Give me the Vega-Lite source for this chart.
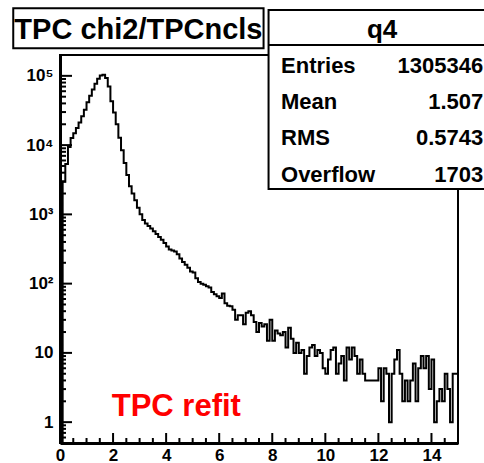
{
  "$schema": "https://vega.github.io/schema/vega-lite/v6.json",
  "width": 398,
  "height": 388,
  "autosize": {"type": "none"},
  "padding": {"left": 60, "top": 55, "right": 26, "bottom": 20},
  "background": "white",
  "config": {"view": {"stroke": null}, "font": "Liberation Sans"},
  "datasets": {
    "bins": [
      {"x": 0.0, "count": 0}, {"x": 0.1, "count": 2950}, {"x": 0.2, "count": 5350}, {"x": 0.3, "count": 9400},
      {"x": 0.4, "count": 12700}, {"x": 0.5, "count": 14800}, {"x": 0.6, "count": 17600}, {"x": 0.7, "count": 21200},
      {"x": 0.8, "count": 26000}, {"x": 0.9, "count": 32500}, {"x": 1.0, "count": 41500}, {"x": 1.1, "count": 51500},
      {"x": 1.2, "count": 63500}, {"x": 1.3, "count": 77000}, {"x": 1.4, "count": 90500}, {"x": 1.5, "count": 101000},
      {"x": 1.6, "count": 104000}, {"x": 1.7, "count": 93000}, {"x": 1.8, "count": 70000}, {"x": 1.9, "count": 43000},
      {"x": 2.0, "count": 29500}, {"x": 2.1, "count": 20000}, {"x": 2.2, "count": 12800}, {"x": 2.3, "count": 8400},
      {"x": 2.4, "count": 5500}, {"x": 2.5, "count": 3700}, {"x": 2.6, "count": 2550}, {"x": 2.7, "count": 2000},
      {"x": 2.8, "count": 1600}, {"x": 2.9, "count": 1250}, {"x": 3.0, "count": 1000}, {"x": 3.1, "count": 830},
      {"x": 3.2, "count": 740}, {"x": 3.3, "count": 680}, {"x": 3.4, "count": 625}, {"x": 3.5, "count": 570},
      {"x": 3.6, "count": 520}, {"x": 3.7, "count": 470}, {"x": 3.8, "count": 430}, {"x": 3.9, "count": 385},
      {"x": 4.0, "count": 345}, {"x": 4.1, "count": 310}, {"x": 4.2, "count": 300}, {"x": 4.3, "count": 290},
      {"x": 4.4, "count": 265}, {"x": 4.5, "count": 230}, {"x": 4.6, "count": 205}, {"x": 4.7, "count": 188},
      {"x": 4.8, "count": 170}, {"x": 4.9, "count": 150}, {"x": 5.0, "count": 145}, {"x": 5.1, "count": 120},
      {"x": 5.2, "count": 106}, {"x": 5.3, "count": 100}, {"x": 5.4, "count": 96}, {"x": 5.5, "count": 92},
      {"x": 5.6, "count": 88}, {"x": 5.7, "count": 76}, {"x": 5.8, "count": 70}, {"x": 5.9, "count": 66},
      {"x": 6.0, "count": 62}, {"x": 6.1, "count": 72}, {"x": 6.2, "count": 52}, {"x": 6.3, "count": 48},
      {"x": 6.4, "count": 47}, {"x": 6.5, "count": 42}, {"x": 6.6, "count": 30}, {"x": 6.7, "count": 35},
      {"x": 6.8, "count": 35}, {"x": 6.9, "count": 26}, {"x": 7.0, "count": 38}, {"x": 7.1, "count": 40},
      {"x": 7.2, "count": 35}, {"x": 7.3, "count": 28}, {"x": 7.4, "count": 20}, {"x": 7.5, "count": 27},
      {"x": 7.6, "count": 24}, {"x": 7.7, "count": 26}, {"x": 7.8, "count": 15}, {"x": 7.9, "count": 30},
      {"x": 8.0, "count": 15}, {"x": 8.1, "count": 21}, {"x": 8.2, "count": 19}, {"x": 8.3, "count": 18},
      {"x": 8.4, "count": 20}, {"x": 8.5, "count": 12}, {"x": 8.6, "count": 23}, {"x": 8.7, "count": 16},
      {"x": 8.8, "count": 10}, {"x": 8.9, "count": 14}, {"x": 9.0, "count": 10}, {"x": 9.1, "count": 11},
      {"x": 9.2, "count": 5}, {"x": 9.3, "count": 9}, {"x": 9.4, "count": 12}, {"x": 9.5, "count": 13},
      {"x": 9.6, "count": 9}, {"x": 9.7, "count": 11}, {"x": 9.8, "count": 10}, {"x": 9.9, "count": 6},
      {"x": 10.0, "count": 5}, {"x": 10.1, "count": 8}, {"x": 10.2, "count": 11}, {"x": 10.3, "count": 12},
      {"x": 10.4, "count": 5}, {"x": 10.5, "count": 7}, {"x": 10.6, "count": 9}, {"x": 10.7, "count": 4},
      {"x": 10.8, "count": 12}, {"x": 10.9, "count": 8}, {"x": 11.0, "count": 12}, {"x": 11.1, "count": 9},
      {"x": 11.2, "count": 5}, {"x": 11.3, "count": 8}, {"x": 11.4, "count": 5}, {"x": 11.5, "count": 4},
      {"x": 11.6, "count": 4}, {"x": 11.7, "count": 4}, {"x": 11.8, "count": 4}, {"x": 11.9, "count": 4},
      {"x": 12.0, "count": 6}, {"x": 12.1, "count": 2}, {"x": 12.2, "count": 6}, {"x": 12.3, "count": 5},
      {"x": 12.4, "count": 1}, {"x": 12.5, "count": 5}, {"x": 12.6, "count": 8}, {"x": 12.7, "count": 11},
      {"x": 12.8, "count": 5}, {"x": 12.9, "count": 2}, {"x": 13.0, "count": 4}, {"x": 13.1, "count": 2},
      {"x": 13.2, "count": 4}, {"x": 13.3, "count": 7}, {"x": 13.4, "count": 2}, {"x": 13.5, "count": 6},
      {"x": 13.6, "count": 9}, {"x": 13.7, "count": 6}, {"x": 13.8, "count": 9}, {"x": 13.9, "count": 3},
      {"x": 14.0, "count": 8}, {"x": 14.1, "count": 1}, {"x": 14.2, "count": 2}, {"x": 14.3, "count": 3},
      {"x": 14.4, "count": 2}, {"x": 14.5, "count": 5}, {"x": 14.6, "count": 3}, {"x": 14.7, "count": 1},
      {"x": 14.8, "count": 5}, {"x": 14.9, "count": 5}, {"x": 15.0, "count": 5}
    ],
    "xMajorTicks": [{"v": 2}, {"v": 4}, {"v": 6}, {"v": 8}, {"v": 10}, {"v": 12}, {"v": 14}],
    "xMinorTicks": [
      {"v": 0.5}, {"v": 1}, {"v": 1.5}, {"v": 2.5}, {"v": 3}, {"v": 3.5}, {"v": 4.5}, {"v": 5}, {"v": 5.5},
      {"v": 6.5}, {"v": 7}, {"v": 7.5}, {"v": 8.5}, {"v": 9}, {"v": 9.5}, {"v": 10.5}, {"v": 11}, {"v": 11.5},
      {"v": 12.5}, {"v": 13}, {"v": 13.5}, {"v": 14.5}
    ],
    "yMajorTicks": [{"v": 1}, {"v": 10}, {"v": 100}, {"v": 1000}, {"v": 10000}, {"v": 100000}],
    "yMinorTicks": [
      {"v": 0.6}, {"v": 0.7}, {"v": 0.8}, {"v": 0.9},
      {"v": 2}, {"v": 3}, {"v": 4}, {"v": 5}, {"v": 6}, {"v": 7}, {"v": 8}, {"v": 9},
      {"v": 20}, {"v": 30}, {"v": 40}, {"v": 50}, {"v": 60}, {"v": 70}, {"v": 80}, {"v": 90},
      {"v": 200}, {"v": 300}, {"v": 400}, {"v": 500}, {"v": 600}, {"v": 700}, {"v": 800}, {"v": 900},
      {"v": 2000}, {"v": 3000}, {"v": 4000}, {"v": 5000}, {"v": 6000}, {"v": 7000}, {"v": 8000}, {"v": 9000},
      {"v": 20000}, {"v": 30000}, {"v": 40000}, {"v": 50000}, {"v": 60000}, {"v": 70000}, {"v": 80000}, {"v": 90000}
    ]
  },
  "resolve": {"scale": {"y": "independent"}, "axis": {"x": "independent", "y": "independent"}},
  "layer": [
    {
      "data": {"name": "bins"},
      "mark": {"type": "line", "interpolate": "step-after", "color": "black", "strokeWidth": 2, "invalid": "show"},
      "encoding": {
        "x": {
          "field": "x", "type": "quantitative",
          "scale": {"domain": [0, 15], "nice": false, "zero": false},
          "axis": {
            "orient": "bottom", "values": [0, 2, 4, 6, 8, 10, 12, 14], "title": null, "grid": false,
            "ticks": false, "domain": true, "domainColor": "black", "domainWidth": 3,
            "labels": true, "labelFont": "Liberation Sans", "labelFontWeight": "bold", "labelFontSize": 17,
            "labelColor": "black", "labelPadding": 4, "labelFlush": false
          }
        },
        "y": {
          "field": "count", "type": "quantitative",
          "scale": {"type": "log", "domain": [0.5, 200000], "nice": false, "clamp": true},
          "axis": {
            "orient": "left", "values": [1, 10, 100, 1000, 10000, 100000], "title": null, "grid": false,
            "labelExpr": "datum.value < 5 ? '1' : datum.value < 50 ? '10' : datum.value < 500 ? '10²' : datum.value < 5000 ? '10³' : datum.value < 50000 ? '10⁴' : '10⁵'",
            "ticks": false, "domain": true, "domainColor": "black", "domainWidth": 3,
            "labels": true, "labelFont": "Liberation Sans", "labelFontWeight": "bold", "labelFontSize": 17,
            "labelColor": "black", "labelPadding": 7, "labelFlush": false
          }
        }
      }
    },
    {
      "data": {"values": [{}]},
      "layer": [
        {
          "mark": {"type": "text", "text": "TPC refit", "color": "#ff0000", "font": "Liberation Sans", "fontWeight": "bold", "fontSize": 31, "align": "left", "baseline": "alphabetic"},
          "encoding": {
            "x": {"datum": 1.95, "type": "quantitative", "axis": null},
            "y": {"datum": 1.21, "type": "quantitative", "scale": {"type": "log", "domain": [0.5, 200000], "nice": false}, "axis": null}
          }
        },
        {
          "mark": {"type": "rect", "fill": null, "fillOpacity": 0, "stroke": "black", "strokeWidth": 2},
          "encoding": {
            "x": {"datum": 0, "type": "quantitative", "axis": null},
            "x2": {"datum": 15},
            "y": {"datum": 0.5, "type": "quantitative", "scale": {"type": "log", "domain": [0.5, 200000], "nice": false}, "axis": null},
            "y2": {"datum": 200000}
          }
        },
        {
          "mark": {"type": "rect", "fill": "white", "stroke": "black", "strokeWidth": 2},
          "encoding": {
            "x": {"datum": -1.762, "type": "quantitative", "axis": null},
            "x2": {"datum": 7.672},
            "y": {"datum": 944000, "type": "quantitative", "scale": {"type": "log", "domain": [0.5, 200000], "nice": false}, "axis": null},
            "y2": {"datum": 250000}
          }
        },
        {
          "mark": {"type": "text", "text": "TPC chi2/TPCncls", "color": "black", "font": "Liberation Sans", "fontWeight": "bold", "fontSize": 29, "align": "center", "baseline": "alphabetic"},
          "encoding": {
            "x": {"datum": 2.955, "type": "quantitative", "axis": null},
            "y": {"datum": 337000, "type": "quantitative", "scale": {"type": "log", "domain": [0.5, 200000], "nice": false}, "axis": null}
          }
        },
        {
          "mark": {"type": "rect", "fill": "white", "stroke": "black", "strokeWidth": 2},
          "encoding": {
            "x": {"datum": 7.86, "type": "quantitative", "axis": null},
            "x2": {"datum": 17},
            "y": {"datum": 894000, "type": "quantitative", "scale": {"type": "log", "domain": [0.5, 200000], "nice": false}, "axis": null},
            "y2": {"datum": 2323}
          }
        },
        {
          "mark": {"type": "rule", "color": "black", "strokeWidth": 2},
          "encoding": {
            "x": {"datum": 7.86, "type": "quantitative", "axis": null},
            "x2": {"datum": 17},
            "y": {"datum": 279000, "type": "quantitative", "scale": {"type": "log", "domain": [0.5, 200000], "nice": false}, "axis": null}
          }
        },
        {
          "mark": {"type": "text", "text": "q4", "color": "black", "font": "Liberation Sans", "fontWeight": "bold", "fontSize": 26, "align": "center", "baseline": "alphabetic"},
          "encoding": {
            "x": {"datum": 12.14, "type": "quantitative", "axis": null},
            "y": {"datum": 355600, "type": "quantitative", "scale": {"type": "log", "domain": [0.5, 200000], "nice": false}, "axis": null}
          }
        },
        {
          "mark": {"type": "text", "text": ["Entries", "Mean", "RMS", "Overflow"], "lineHeight": 36.3, "color": "black", "font": "Liberation Sans", "fontWeight": "bold", "fontSize": 22, "align": "left", "baseline": "alphabetic"},
          "encoding": {
            "x": {"datum": 8.33, "type": "quantitative", "axis": null},
            "y": {"datum": 110900, "type": "quantitative", "scale": {"type": "log", "domain": [0.5, 200000], "nice": false}, "axis": null}
          }
        },
        {
          "mark": {"type": "text", "text": ["1305346", "1.507", "0.5743", "1703"], "lineHeight": 36.3, "color": "black", "font": "Liberation Sans", "fontWeight": "bold", "fontSize": 22, "align": "right", "baseline": "alphabetic"},
          "encoding": {
            "x": {"datum": 15.95, "type": "quantitative", "axis": null},
            "y": {"datum": 110900, "type": "quantitative", "scale": {"type": "log", "domain": [0.5, 200000], "nice": false}, "axis": null}
          }
        }
      ]
    },
    {
      "data": {"name": "xMajorTicks"},
      "mark": {"type": "rule", "color": "black", "strokeWidth": 2},
      "encoding": {
        "x": {"field": "v", "type": "quantitative", "axis": null},
        "y": {"datum": 0.5, "type": "quantitative", "scale": {"type": "log", "domain": [0.5, 200000], "nice": false}, "axis": null},
        "y2": {"datum": 0.697}
      }
    },
    {
      "data": {"name": "xMinorTicks"},
      "mark": {"type": "rule", "color": "black", "strokeWidth": 2},
      "encoding": {
        "x": {"field": "v", "type": "quantitative", "axis": null},
        "y": {"datum": 0.5, "type": "quantitative", "scale": {"type": "log", "domain": [0.5, 200000], "nice": false}, "axis": null},
        "y2": {"datum": 0.59}
      }
    },
    {
      "data": {"name": "yMajorTicks"},
      "mark": {"type": "rule", "color": "black", "strokeWidth": 2},
      "encoding": {
        "x": {"datum": 0, "type": "quantitative", "axis": null},
        "x2": {"datum": 0.453},
        "y": {"field": "v", "type": "quantitative", "scale": {"type": "log", "domain": [0.5, 200000], "nice": false}, "axis": null}
      }
    },
    {
      "data": {"name": "yMinorTicks"},
      "mark": {"type": "rule", "color": "black", "strokeWidth": 2},
      "encoding": {
        "x": {"datum": 0, "type": "quantitative", "axis": null},
        "x2": {"datum": 0.226},
        "y": {"field": "v", "type": "quantitative", "scale": {"type": "log", "domain": [0.5, 200000], "nice": false}, "axis": null}
      }
    }
  ]
}
